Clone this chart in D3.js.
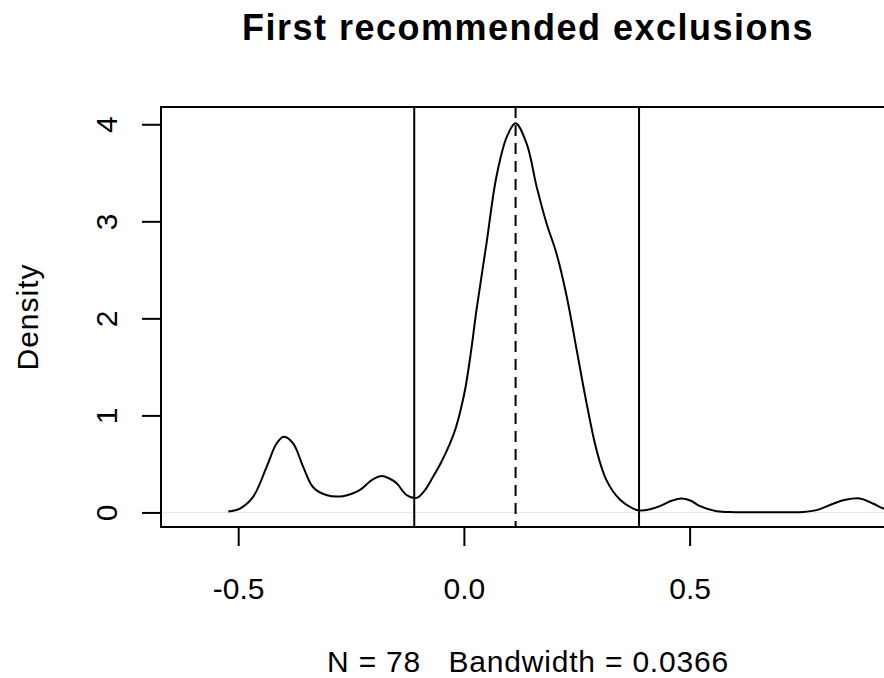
<!DOCTYPE html>
<html>
<head>
<meta charset="utf-8">
<script src="https://cdn.jsdelivr.net/npm/d3@7"></script>
<style>
  body { margin: 0; background: #fff; }
  text { font-family: "Liberation Sans", Arial, sans-serif; fill: #000; }
</style>
</head>
<body>
<script>
// Chart size
const width = 884;
const height = 678;

// Density curve (x, density)
const densityX = [-0.522, -0.496, -0.467, -0.437, -0.415, -0.399, -0.378, -0.356, -0.334, -0.305,
  -0.268, -0.231, -0.205, -0.185, -0.165, -0.149, -0.127, -0.105, -0.088, -0.068,
  -0.050, -0.031, -0.018, -0.007, 0.004, 0.0155, 0.028, 0.050, 0.072, 0.095, 0.1145, 0.139, 0.161,
  0.183, 0.205, 0.228, 0.250, 0.272, 0.294, 0.316, 0.346, 0.375, 0.39,
  0.41, 0.434, 0.46, 0.482, 0.503, 0.523, 0.560, 0.60, 0.70, 0.75,
  0.781, 0.818, 0.845, 0.877, 0.907, 0.930, 0.96];
const densityY = [0.01, 0.04, 0.16, 0.47, 0.71, 0.78, 0.71, 0.47, 0.26, 0.18,
  0.168, 0.23, 0.33, 0.374, 0.35, 0.30, 0.18, 0.15, 0.22, 0.37,
  0.52, 0.71, 0.87, 1.06, 1.30, 1.65, 2.09, 2.77, 3.46, 3.87, 4.01, 3.80, 3.36,
  2.98, 2.67, 2.22, 1.67, 1.12, 0.64, 0.33, 0.13, 0.04, 0.02,
  0.03, 0.065, 0.12, 0.144, 0.12, 0.065, 0.013, 0.003, 0.002, 0.005,
  0.024, 0.09, 0.13, 0.144, 0.09, 0.04, 0.01];

// Reference lines: solid cut-offs and dashed centre
const cutoffs = [-0.110, 0.388];
const centre = 0.1145;

// Tick labels
const xTicks = [-0.5, 0, 0.5];
const yTicks = [0, 1, 2, 3, 4];

const titleText = "First recommended exclusions";
const subText = "N = 78   Bandwidth = 0.0366";

// Plot region (right edge falls just outside the picture)
const pLeft = 161, pTop = 107, pRight = 895, pBottom = 527;

var svg = d3.select("body")
    .append("svg")
    .attr("width", width)
    .attr("height", height);

// Scales
var x = d3.scaleLinear()
    .domain([-0.671, 0.955])
    .range([pLeft, pRight]);
var y = d3.scaleLinear()
    .domain([-0.15, 4.178])
    .range([pBottom, pTop]);

svg.append("defs").append("clipPath")
    .attr("id", "plotclip")
    .append("rect")
    .attr("x", pLeft).attr("y", pTop)
    .attr("width", pRight - pLeft).attr("height", pBottom - pTop);

var plot = svg.append("g").attr("clip-path", "url(#plotclip)");

// Zero line (very light grey)
plot.append("line")
    .attr("x1", pLeft).attr("x2", pRight)
    .attr("y1", y(0)).attr("y2", y(0))
    .attr("stroke", "#e6e6e6")
    .attr("stroke-width", 1);

// Density curve
var pts = densityX.map((d, i) => [d, densityY[i]]);
var line = d3.line()
    .x(d => x(d[0]))
    .y(d => y(d[1]))
    .curve(d3.curveCatmullRom.alpha(0.5));
plot.append("path")
    .datum(pts)
    .attr("d", line)
    .attr("fill", "none")
    .attr("stroke", "#000")
    .attr("stroke-width", 2);

// Vertical cut-off lines
plot.selectAll(".cut")
    .data(cutoffs)
    .enter().append("line")
    .attr("x1", d => x(d)).attr("x2", d => x(d))
    .attr("y1", pTop).attr("y2", pBottom)
    .attr("stroke", "#000")
    .attr("stroke-width", 2);

plot.append("line")
    .attr("x1", x(centre)).attr("x2", x(centre))
    .attr("y1", pTop).attr("y2", pBottom)
    .attr("stroke", "#000")
    .attr("stroke-width", 2)
    .attr("stroke-dasharray", "11,7");

// Box
svg.append("rect")
    .attr("x", pLeft).attr("y", pTop)
    .attr("width", pRight - pLeft).attr("height", pBottom - pTop)
    .attr("fill", "none")
    .attr("stroke", "#000")
    .attr("stroke-width", 2);

// Axes
var xAxis = d3.axisBottom(x)
    .tickValues(xTicks)
    .tickFormat(d3.format(".1f"))
    .tickSize(19)
    .tickPadding(32)
    .tickSizeOuter(0);
var gx = svg.append("g")
    .attr("transform", `translate(0, ${pBottom})`)
    .call(xAxis);
gx.select(".domain")
    .attr("d", `M${x(xTicks[0])},0H${x(xTicks[xTicks.length - 1])}`)
    .attr("stroke-width", 2);
gx.selectAll(".tick line").attr("stroke-width", 2);
gx.selectAll(".tick text")
    .attr("font-size", 30)
    .text(d => d < 0 ? "-" + d3.format(".1f")(-d) : d3.format(".1f")(d));

var yAxis = d3.axisLeft(y)
    .tickValues(yTicks)
    .tickFormat(d3.format("d"))
    .tickSize(19)
    .tickSizeOuter(0);
var gy = svg.append("g")
    .attr("transform", `translate(${pLeft}, 0)`)
    .call(yAxis);
gy.select(".domain")
    .attr("d", `M0,${y(yTicks[0])}V${y(yTicks[yTicks.length - 1])}`)
    .attr("stroke-width", 2);
gy.selectAll(".tick line").attr("stroke-width", 2);
gy.selectAll(".tick text")
    .attr("font-size", 30)
    .attr("x", null).attr("dy", null)
    .attr("text-anchor", "middle")
    .attr("transform", "translate(-44, 0) rotate(-90)");

// Title and labels
svg.append("text")
    .attr("x", (pLeft + pRight) / 2)
    .attr("y", 40)
    .attr("text-anchor", "middle")
    .attr("font-size", 36)
    .attr("letter-spacing", 1.5)
    .attr("font-weight", "bold")
    .text(titleText);

svg.append("text")
    .attr("transform", `translate(38, ${(pTop + pBottom) / 2}) rotate(-90)`)
    .attr("text-anchor", "middle")
    .attr("font-size", 30)
    .attr("letter-spacing", 1)
    .text("Density");

svg.append("text")
    .attr("x", (pLeft + pRight) / 2)
    .attr("y", 672)
    .attr("text-anchor", "middle")
    .attr("font-size", 30)
    .attr("letter-spacing", 0.8)
    .style("white-space", "pre")
    .text(subText);
</script>
</body>
</html>
